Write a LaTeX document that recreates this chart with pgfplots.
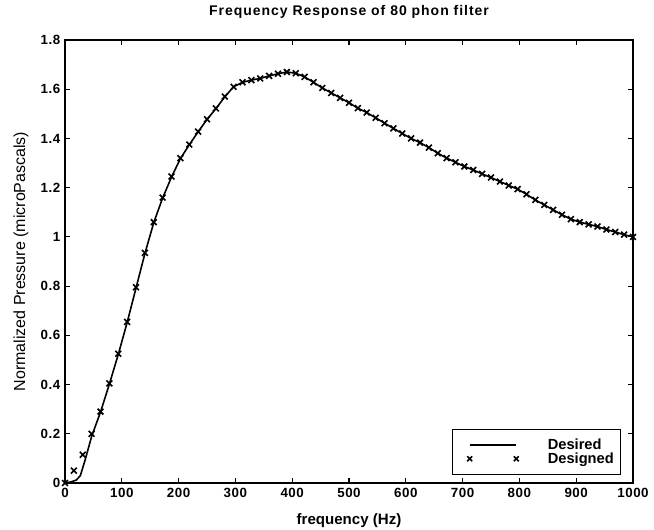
\documentclass[border=0pt]{standalone}
\usepackage{pgfplots}
\pgfplotsset{compat=1.18}
\usepackage{fontspec}
\setmainfont{Liberation Sans}
\pgfplotstableread{
x y
0 0
15.625 0.05
31.25 0.115
46.875 0.20
62.5 0.29
78.125 0.405
93.75 0.525
109.375 0.655
125 0.795
140.625 0.935
156.25 1.06
171.875 1.16
187.5 1.245
203.125 1.32
218.75 1.375
234.375 1.428
250 1.478
265.625 1.522
281.25 1.57
296.875 1.61
312.5 1.628
328.125 1.637
343.75 1.644
359.375 1.654
375 1.663
390.625 1.67
406.25 1.665
421.875 1.65
437.5 1.628
453.125 1.605
468.75 1.585
484.375 1.565
500 1.545
515.625 1.523
531.25 1.505
546.875 1.484
562.5 1.462
578.125 1.441
593.75 1.42
609.375 1.40
625 1.383
640.625 1.363
656.25 1.34
671.875 1.32
687.5 1.303
703.125 1.286
718.75 1.272
734.375 1.256
750 1.241
765.625 1.225
781.25 1.209
796.875 1.194
812.5 1.173
828.125 1.15
843.75 1.13
859.375 1.11
875 1.09
890.625 1.072
906.25 1.06
921.875 1.051
937.5 1.042
953.125 1.03
968.75 1.02
984.375 1.009
1000 1.0
}\designed
\pgfplotstableread{
x y
0 0
10 0.004
20 0.012
27 0.03
35 0.09
47 0.19
62.5 0.288
78.125 0.402
93.75 0.522
109.375 0.652
125 0.792
140.625 0.932
156.25 1.058
171.875 1.158
187.5 1.243
203.125 1.318
218.75 1.374
234.375 1.427
250 1.477
265.625 1.521
281.25 1.569
296.875 1.61
312.5 1.628
328.125 1.637
343.75 1.644
359.375 1.654
375 1.663
390.625 1.67
406.25 1.665
421.875 1.65
437.5 1.628
453.125 1.605
468.75 1.585
484.375 1.565
500 1.545
515.625 1.523
531.25 1.505
546.875 1.484
562.5 1.462
578.125 1.441
593.75 1.42
609.375 1.40
625 1.383
640.625 1.363
656.25 1.34
671.875 1.32
687.5 1.303
703.125 1.286
718.75 1.272
734.375 1.256
750 1.241
765.625 1.225
781.25 1.209
796.875 1.194
812.5 1.173
828.125 1.15
843.75 1.13
859.375 1.11
875 1.09
890.625 1.072
906.25 1.06
921.875 1.051
937.5 1.042
953.125 1.03
968.75 1.02
984.375 1.009
1000 1.0
}\desired
\begin{document}
\begin{tikzpicture}
\path[use as bounding box] (-48.75pt,-34.5pt) rectangle (441.75pt,362.25pt);
\begin{axis}[
  at={(0,0)}, anchor=south west,
  scale only axis, width=426pt, height=332.25pt,
  xmin=0, xmax=1000, ymin=0, ymax=1.8,
  xtick={0,100,...,1000}, ytick={0,0.2,...,1.8},
  tick align=inside, major tick length=3.75pt,
  axis line style={line width=1pt},
  every tick/.style={black, line width=0.9pt},
  /pgf/number format/assume math mode=true,
  /pgf/number format/1000 sep={},
  tick label style={font=\fontsize{10}{11}\selectfont\bfseries\addfontfeature{LetterSpace=4}},
  title={Frequency Response of 80 phon filter},
  title style={font=\fontsize{10.5}{12}\selectfont\bfseries\addfontfeature{LetterSpace=7}, at={(0.5,1)}, anchor=base, yshift=12pt},
  xlabel={frequency (Hz)},
  xlabel style={font=\fontsize{11.3}{13}\selectfont\bfseries, at={(axis description cs:0.5,0)}, anchor=base, yshift=-31pt},
  ylabel={Normalized Pressure (microPascals)},
  ylabel style={font=\fontsize{12}{14}\selectfont, at={(axis description cs:-0.0704,0.5)}, anchor=base, rotate=0},
  legend style={at={(0.979,0.018)}, anchor=south east, draw=black, line width=0.9pt,
    font=\fontsize{11}{12}\selectfont\bfseries, inner xsep=3pt, inner ysep=5pt,
    row sep=-3pt, cells={anchor=west}},
]
\addplot[black, line width=1.2pt, mark=none,
  legend image code/.code={\path (-9pt,0pt) (56pt,0pt); \draw[black, line width=1.2pt] (0pt,0pt) -- (35pt,0pt);}]
  table[x=x,y=y] {\desired};
\addlegendentry{Desired}
\addplot[black, only marks, mark=x, mark size=3.1pt, mark options={line width=1.2pt},
  legend image code/.code={\path (-9pt,0pt) (56pt,0pt); \draw[black, line width=1.2pt, mark=x, mark size=2.6pt, only marks] plot coordinates {(0pt,0pt) (35pt,0pt)};}]
  table[x=x,y=y] {\designed};
\addlegendentry{Designed}
\end{axis}
\end{tikzpicture}
\end{document}
